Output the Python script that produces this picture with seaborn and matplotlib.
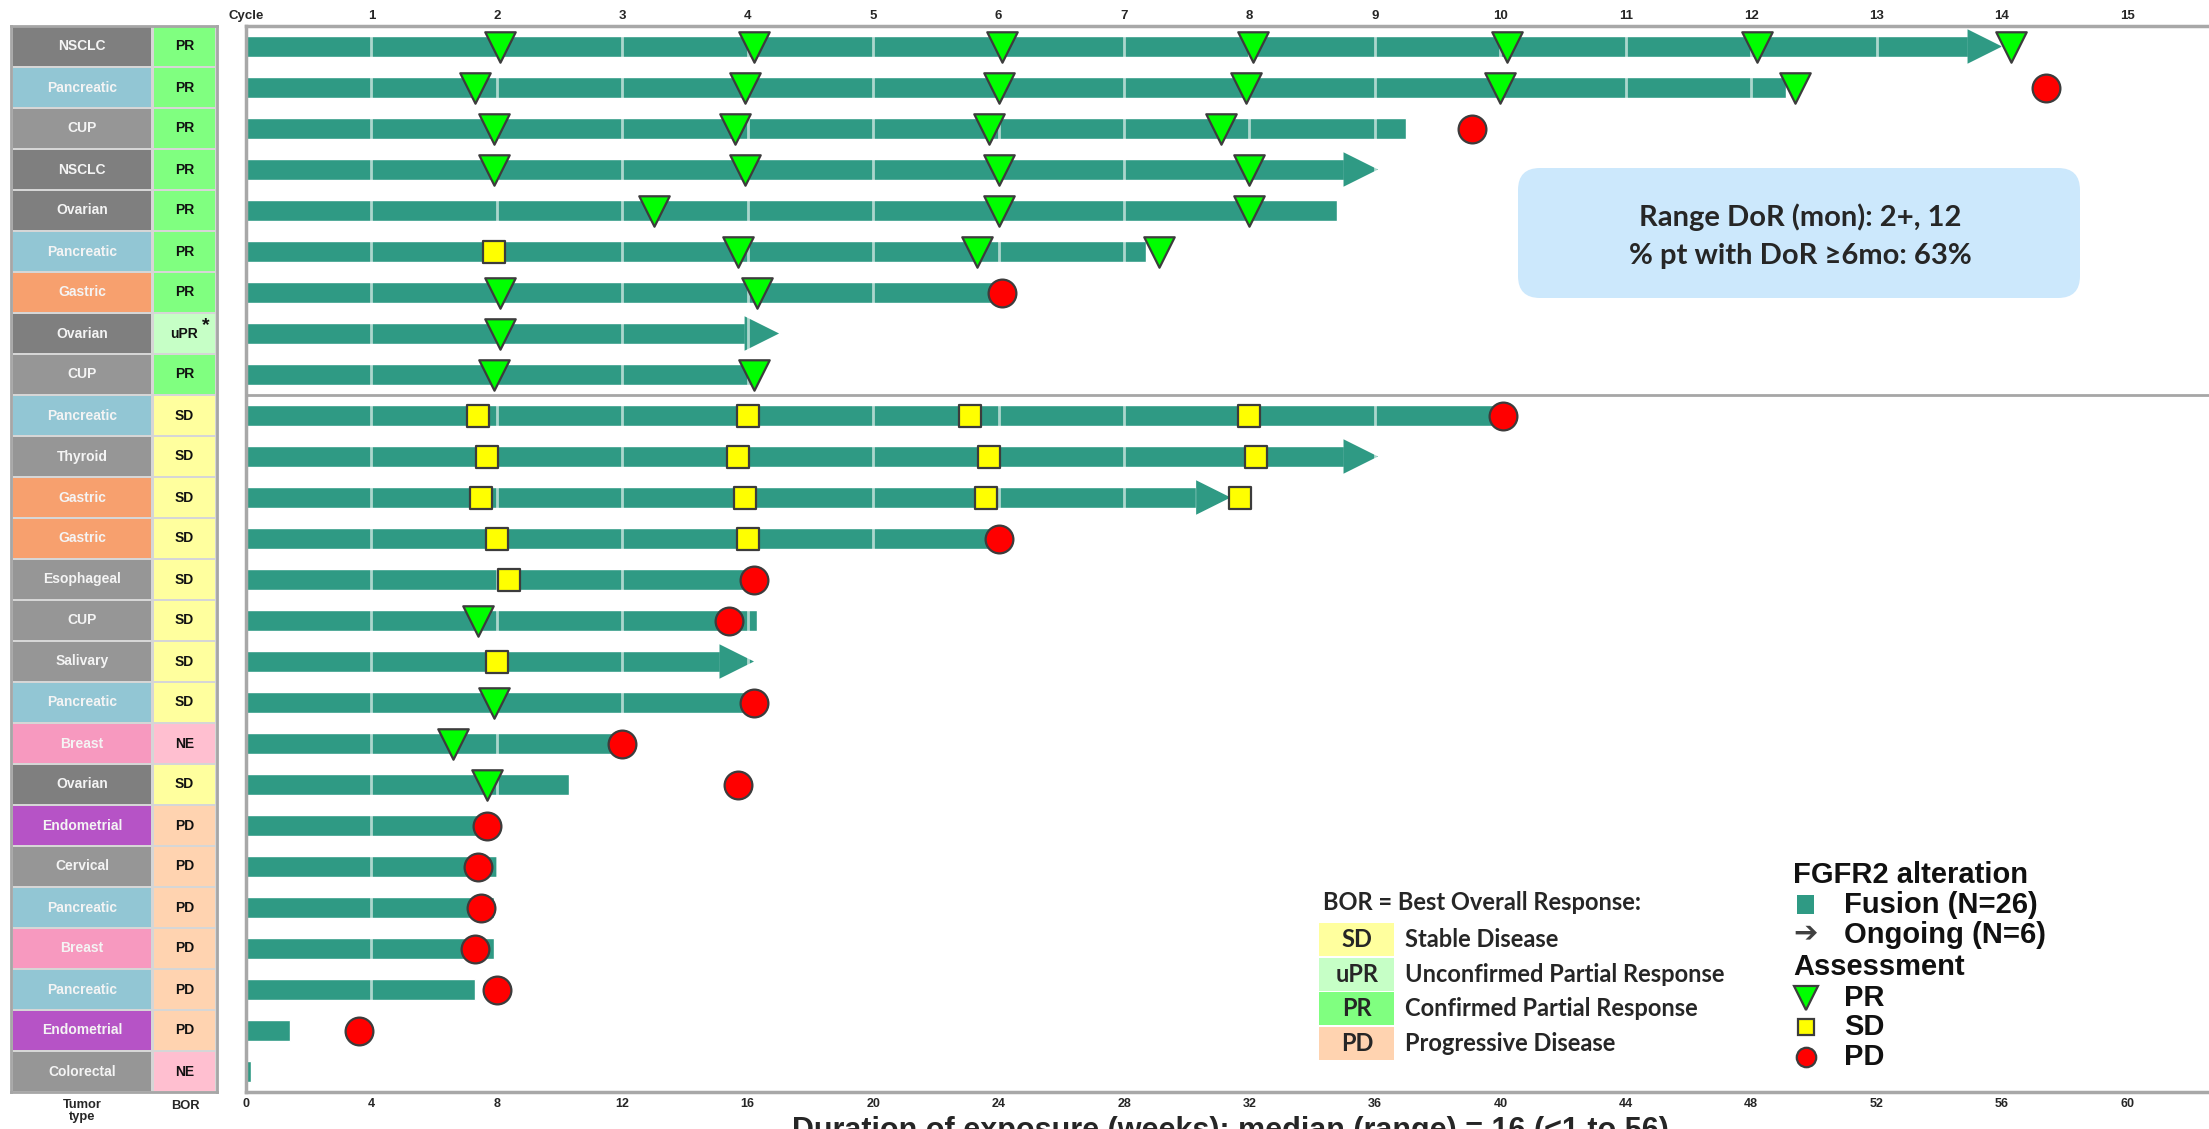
import numpy as np
import pandas as pd
import matplotlib
matplotlib.use("Agg")
import matplotlib.pyplot as plt
from matplotlib.patches import Rectangle, Polygon, FancyBboxPatch
from matplotlib.lines import Line2D
import seaborn as sns

# ---- values (one entry per patient, top to bottom) ----
tumor_types = ["NSCLC", "Pancreatic", "CUP", "NSCLC", "Ovarian", "Pancreatic", "Gastric",
               "Ovarian", "CUP", "Pancreatic", "Thyroid", "Gastric", "Gastric", "Esophageal",
               "CUP", "Salivary", "Pancreatic", "Breast", "Ovarian", "Endometrial", "Cervical",
               "Pancreatic", "Breast", "Pancreatic", "Endometrial", "Colorectal"]
best_response = ["PR", "PR", "PR", "PR", "PR", "PR", "PR", "uPR", "PR",
                 "SD", "SD", "SD", "SD", "SD", "SD", "SD", "SD", "NE", "SD",
                 "PD", "PD", "PD", "PD", "PD", "PD", "NE"]
exposure_weeks = [56.0, 49.1, 37.0, 36.1, 34.8, 28.7, 24.0, 17.0, 16.1,
                  40.0, 36.1, 31.4, 24.0, 16.2, 16.3, 16.2, 16.2, 12.0, 10.3,
                  7.9, 8.0, 7.9, 7.9, 7.3, 1.4, 0.15]
ongoing = [True, False, False, True, False, False, False, True, False,
           False, True, True, False, False, False, True, False, False, False,
           False, False, False, False, False, False, False]

pr_rows = [0, 0, 0, 0, 0, 0, 0, 1, 1, 1, 1, 1, 1, 2, 2, 2, 2, 3, 3, 3, 3,
           4, 4, 4, 5, 5, 5, 6, 6, 7, 8, 8, 14, 16, 17, 18]
pr_weeks = [8.1, 16.2, 24.1, 32.1, 40.2, 48.2, 56.3, 7.3, 15.9, 24.0, 31.9, 40.0, 49.4,
            7.9, 15.6, 23.7, 31.1, 7.9, 15.9, 24.0, 32.0, 13.0, 24.0, 32.0,
            15.7, 23.3, 29.1, 8.1, 16.3, 8.1, 7.9, 16.2, 7.4, 7.9, 6.6, 7.7]
sd_rows = [5, 9, 9, 9, 9, 10, 10, 10, 10, 11, 11, 11, 11, 12, 12, 13, 15]
sd_weeks = [7.9, 7.4, 16.0, 23.1, 32.0, 7.7, 15.7, 23.7, 32.2, 7.5, 15.9, 23.6, 31.7,
            8.0, 16.0, 8.4, 8.0]
pd_rows = [1, 2, 6, 9, 12, 13, 14, 16, 17, 18, 19, 20, 21, 22, 23, 24]
pd_weeks = [57.4, 39.1, 24.1, 40.1, 24.0, 16.2, 15.4, 16.2, 12.0, 15.7,
            7.7, 7.4, 7.5, 7.3, 8.0, 3.6]

week_ticks = list(range(0, 61, 4))
cycle_labels = ["Cycle"] + [str(c) for c in range(1, 16)]

bor_legend_codes = ["SD", "uPR", "PR", "PD"]
bor_legend_names = ["Stable Disease", "Unconfirmed Partial Response",
                    "Confirmed Partial Response", "Progressive Disease"]

tumor_colors = {"NSCLC": "#7f7f7f", "Ovarian": "#7f7f7f", "Pancreatic": "#92c6d4",
                "Gastric": "#f7a06e", "Breast": "#f799bf", "Endometrial": "#b653c6"}
other_tumor_color = "#969696"
bor_colors = {"PR": "#80ff80", "uPR": "#c6ffc6", "SD": "#ffff9e",
              "NE": "#ffbfd0", "PD": "#ffd3b0"}
teal = "#2f9a84"

# ---- figure ----
sns.set_style("white")
plt.rcParams["font.family"] = ["Liberation Sans", "DejaVu Sans"]

W, H = 2209, 1129
fig = plt.figure(figsize=(W / 100, H / 100), dpi=100)
T = fig.dpi_scale_trans


def P(x, y):
    # pixel position (from top-left) -> inches for the figure transform
    return x / 100, (H - y) / 100


top_px, bot_px = 26, 1092
ax = fig.add_axes([246 / W, 1 - bot_px / H, 1 - 246 / W, (bot_px - top_px) / H])

n = len(tumor_types)
head_len = 1.1
bar_end = [w - head_len if og else w for w, og in zip(exposure_weeks, ongoing)]
df = pd.DataFrame({"row": np.arange(n), "bar_end": bar_end})
sns.barplot(data=df, x="bar_end", y="row", orient="h", color=teal, saturation=1,
            width=0.5, ax=ax, zorder=1)

# arrow heads for ongoing patients
for i, (end, tip, og) in enumerate(zip(bar_end, exposure_weeks, ongoing)):
    if og:
        ax.add_patch(Polygon([[end, i - 0.42], [tip, i], [end, i + 0.42]],
                             closed=True, color=teal, lw=0, zorder=1))

# cycle boundaries
for wk in week_ticks[1:]:
    ax.axvline(wk, color="white", lw=2, alpha=0.6, zorder=1.5)

ax.axhline(8.5, color="#a6a6a6", lw=2, zorder=3)

sns.scatterplot(x=pr_weeks, y=pr_rows, marker="v", s=480, color="#00ff00",
                edgecolor="#3c3c3c", linewidth=1.6, ax=ax, zorder=4, legend=False)
sns.scatterplot(x=sd_weeks, y=sd_rows, marker="s", s=260, color="#ffff00",
                edgecolor="#3c3c3c", linewidth=1.6, ax=ax, zorder=4, legend=False)
sns.scatterplot(x=pd_weeks, y=pd_rows, marker="o", s=400, color="#ff0000",
                edgecolor="#3c3c3c", linewidth=1.6, ax=ax, zorder=4, legend=False)

ax.set_xlim(0, 62.6)
ax.set_ylim(n - 0.5, -0.5)
ax.set_xlabel("")
ax.set_ylabel("")
ax.set_yticks([])
ax.set_xticks(week_ticks)
ax.set_xticklabels([str(w) for w in week_ticks], fontsize=9, fontweight="bold")
ax.tick_params(axis="x", length=0, pad=4)
for side in ["left", "top", "bottom"]:
    ax.spines[side].set_color("#a8a8a8")
    ax.spines[side].set_linewidth(2.5)
ax.spines["right"].set_visible(False)

secax = ax.secondary_xaxis("top")
secax.set_xticks(week_ticks, cycle_labels, fontsize=9.5, fontweight="bold")
secax.tick_params(length=0, pad=3)
for s in secax.spines.values():
    s.set_visible(False)

# ---- tumor type / BOR table ----
tab = fig.add_axes([11 / W, 1 - bot_px / H, 206 / W, (bot_px - top_px) / H])
tab.set_xlim(0, 206)
tab.set_ylim(n - 0.5, -0.5)
tab.set_facecolor("#d6d6d6")
tab.set_xticks([])
tab.set_yticks([])
for s in tab.spines.values():
    s.set_color("#a6a6a6")
    s.set_linewidth(2)
for i, (tt, br) in enumerate(zip(tumor_types, best_response)):
    tab.add_patch(Rectangle((2, i - 0.465), 138, 0.93, lw=0,
                            facecolor=tumor_colors.get(tt, other_tumor_color)))
    tab.add_patch(Rectangle((143, i - 0.465), 61, 0.93, lw=0, facecolor=bor_colors[br]))
    tab.text(71, i, tt, ha="center", va="center", color="#f4f4f4",
             fontsize=10, fontweight="bold")
    tab.text(173.5, i, br, ha="center", va="center", color="#111111",
             fontsize=10, fontweight="bold")
    if br == "uPR":
        tab.text(195, i - 0.2, "*", ha="center", va="center", color="#111111",
                 fontsize=14, fontweight="bold")

fig.text(*P(82, 1099), "Tumor\ntype", transform=T, ha="center", va="top",
         fontsize=9.3, fontweight="bold", linespacing=0.95)
fig.text(*P(185, 1106), "BOR", transform=T, ha="center", va="center",
         fontsize=9.3, fontweight="bold")

# x-axis title (cut by the bottom edge, as in the reference)
fig.text(*P(1230, 1116), "Duration of exposure (weeks): median (range) = 16 (<1 to 56)",
         transform=T, ha="center", va="top", fontsize=22, fontweight="bold")

# ---- BOR legend ----
leg_font = ["Lato", "DejaVu Sans"]
fig.text(*P(1323, 903), "BOR = Best Overall Response:", transform=T, ha="left",
         va="center", fontsize=17, fontweight="bold", color="#262626", family=leg_font)
for k, (code, name) in enumerate(zip(bor_legend_codes, bor_legend_names)):
    yc = 939.5 + 34.7 * k
    fig.add_artist(Rectangle(P(1319, yc + 16.5), 0.75, 0.33, transform=T, lw=0,
                             facecolor=bor_colors[code]))
    fig.text(*P(1357, yc), code, transform=T, ha="center", va="center",
             fontsize=17, fontweight="bold", color="#262626", family=leg_font)
    fig.text(*P(1405, yc), name, transform=T, ha="left", va="center",
             fontsize=17, fontweight="bold", color="#262626", family=leg_font)

# ---- FGFR2 / assessment legend ----
big = dict(transform=T, ha="left", va="center", fontsize=21, fontweight="bold",
           color="#111111")
fig.text(*P(1793, 875), "FGFR2 alteration", **big)
fig.add_artist(Rectangle(P(1797, 914), 0.17, 0.19, transform=T, lw=0, facecolor=teal))
fig.text(*P(1844, 905), "Fusion (N=26)", **big)
fig.text(*P(1806, 933), "\u2794", transform=T, ha="center", va="center",
         fontsize=21, color="#404040", family=["DejaVu Sans"])
fig.text(*P(1844, 935), "Ongoing (N=6)", **big)
fig.text(*P(1793, 967), "Assessment", **big)
for yc, mk, ms, fc, lab in [(998, "v", 17, "#00ff00", "PR"),
                            (1027, "s", 12, "#ffff00", "SD"),
                            (1057, "o", 14, "#ff0000", "PD")]:
    x0, y0 = P(1805.5, yc)
    fig.add_artist(Line2D([x0], [y0], transform=T, marker=mk, ms=ms, mfc=fc,
                          mec="#3c3c3c", mew=1.6, ls="none"))
    fig.text(*P(1844, yc), lab, **big)

# ---- DoR annotation box ----
x0, y0 = P(1518, 298)
fig.add_artist(FancyBboxPatch((x0, y0), 5.62, 1.30, transform=T,
                              boxstyle="round,pad=0,rounding_size=0.22",
                              facecolor="#cce8fc", edgecolor="none"))
fig.text(*P(1800, 217), "Range DoR (mon): 2+, 12", transform=T, ha="center",
         va="center", fontsize=21, fontweight="bold", color="#262626", family=leg_font)
fig.text(*P(1800, 256), "% pt with DoR \u22656mo: 63%", transform=T, ha="center",
         va="center", fontsize=21, fontweight="bold", color="#262626", family=leg_font)

fig.savefig("out.png", dpi=100)
